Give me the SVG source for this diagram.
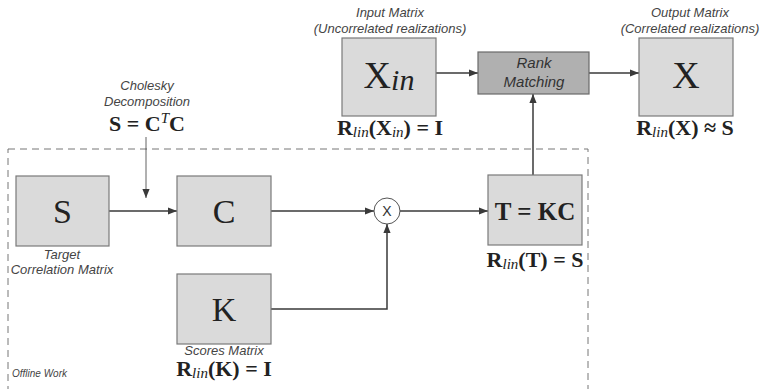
<svg xmlns="http://www.w3.org/2000/svg" width="761" height="389" viewBox="0 0 761 389">
<style>
.box{fill:#dadada;stroke:#7a7a7a;stroke-width:1.2}
.rank{fill:#b0b0b0;stroke:#6a6a6a;stroke-width:1.2}
.ln{fill:none;stroke:#3a3a3a;stroke-width:1.5}
.cap{font-family:"Liberation Sans",Arial,sans-serif;font-style:italic;font-size:13px;fill:#444}
.big{font-family:"Liberation Serif","DejaVu Serif",serif;font-size:34px;fill:#222}
.math{font-family:"Liberation Serif","DejaVu Serif",serif;font-weight:bold;font-size:22px;fill:#222}
.mi{font-weight:normal;font-style:italic;font-size:15px}
</style>
<defs>
<marker id="ah" viewBox="0 0 10 10" refX="10" refY="5" markerWidth="9" markerHeight="9" markerUnits="userSpaceOnUse" orient="auto">
<path d="M0,1 L10,5 L0,9 z" fill="#3a3a3a"/>
</marker>
</defs>
<rect x="8" y="149" width="580" height="250" fill="none" stroke="#777" stroke-width="1" stroke-dasharray="7,5"/>
<text class="cap" x="12" y="377" style="font-size:10px">Offline Work</text>
<g id="connectors">
<line class="ln" x1="109" y1="211" x2="177" y2="211" marker-end="url(#ah)"/>
<line x1="146" y1="137" x2="146" y2="198" stroke="#3a3a3a" stroke-width="0.8" marker-end="url(#ah)"/>
<line class="ln" x1="271" y1="211" x2="374" y2="211" marker-end="url(#ah)"/>
<polyline class="ln" points="271,309 387,309 387,224" marker-end="url(#ah)"/>
<line class="ln" x1="400" y1="211" x2="488" y2="211" marker-end="url(#ah)"/>
<line class="ln" x1="533" y1="175" x2="533" y2="94" marker-end="url(#ah)"/>
<line class="ln" x1="436" y1="73" x2="478" y2="73" marker-end="url(#ah)"/>
<line class="ln" x1="589" y1="73" x2="639" y2="73" marker-end="url(#ah)"/>
</g>
<g id="cholesky">
<text class="cap" x="147" y="90" text-anchor="middle">Cholesky</text>
<text class="cap" x="147" y="106" text-anchor="middle">Decomposition</text>
<text class="math" x="147" y="131" text-anchor="middle">S = C<tspan class="mi" dy="-8">T</tspan><tspan dy="8">C</tspan></text>
</g>
<g id="nodeS">
<rect class="box" x="16" y="176" width="93" height="70"/>
<text class="big" x="62.5" y="223" text-anchor="middle">S</text>
<text class="cap" x="62" y="259" text-anchor="middle">Target</text>
<text class="cap" x="62" y="274" text-anchor="middle">Correlation Matrix</text>
</g>
<g id="nodeC">
<rect class="box" x="177" y="176" width="94" height="70"/>
<text class="big" x="224" y="223" text-anchor="middle">C</text>
</g>
<g id="nodeMul">
<circle cx="387" cy="211" r="13" fill="#fff" stroke="#555" stroke-width="1"/>
<text x="387" y="216" text-anchor="middle" font-family="Liberation Sans,Arial,sans-serif" font-size="14" fill="#333">X</text>
</g>
<g id="nodeK">
<rect class="box" x="177" y="274" width="94" height="70"/>
<text class="big" x="224" y="321" text-anchor="middle">K</text>
<text class="cap" x="224" y="355" text-anchor="middle">Scores Matrix</text>
<text class="math" x="224" y="376" text-anchor="middle">R<tspan class="mi" dy="2">lin</tspan><tspan dy="-2">(K) = I</tspan></text>
</g>
<g id="nodeT">
<rect class="box" x="488" y="175" width="94" height="70"/>
<text class="math" x="535" y="220" text-anchor="middle" style="font-size:25px">T = KC</text>
<text class="math" x="535" y="267" text-anchor="middle">R<tspan class="mi" dy="2">lin</tspan><tspan dy="-2">(T) = S</tspan></text>
</g>
<g id="nodeXin">
<text class="cap" x="390" y="17" text-anchor="middle">Input Matrix</text>
<text class="cap" x="390" y="33" text-anchor="middle">(Uncorrelated realizations)</text>
<rect class="box" x="342" y="38" width="94" height="78"/>
<text class="big" x="389" y="88" text-anchor="middle" style="font-size:38px">X<tspan style="font-style:italic;font-size:30px" dy="2">in</tspan></text>
<text class="math" x="390" y="135" text-anchor="middle">R<tspan class="mi" dy="2">lin</tspan><tspan dy="-2">(X</tspan><tspan class="mi" dy="2">in</tspan><tspan dy="-2">) = I</tspan></text>
</g>
<g id="nodeRank">
<rect class="rank" x="478" y="52" width="111" height="42"/>
<text class="cap" x="534" y="68" text-anchor="middle" style="font-size:15px;fill:#333">Rank</text>
<text class="cap" x="534" y="87" text-anchor="middle" style="font-size:15px;fill:#333">Matching</text>
</g>
<g id="nodeX">
<text class="cap" x="690" y="17" text-anchor="middle">Output Matrix</text>
<text class="cap" x="690" y="33" text-anchor="middle">(Correlated realizations)</text>
<rect class="box" x="639" y="38" width="94" height="78"/>
<text class="big" x="686" y="88" text-anchor="middle" style="font-size:38px">X</text>
<text class="math" x="685" y="135" text-anchor="middle">R<tspan class="mi" dy="2">lin</tspan><tspan dy="-2">(X) ≈ S</tspan></text>
</g>
</svg>
